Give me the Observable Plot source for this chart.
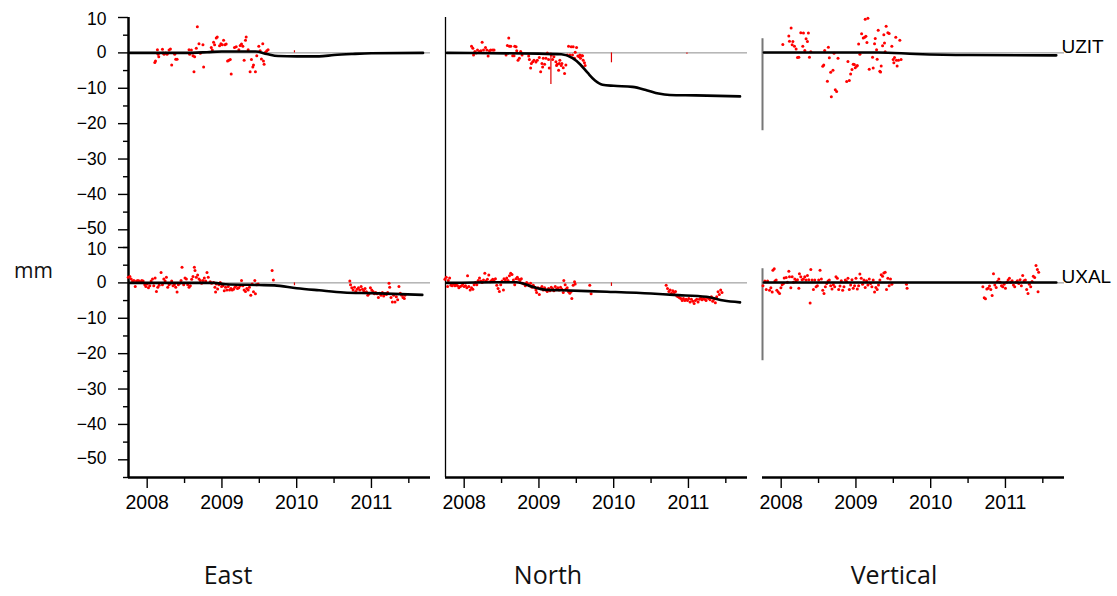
<!DOCTYPE html>
<html>
<head>
<meta charset="utf-8">
<script src="https://cdn.jsdelivr.net/npm/d3@7"></script>
<script src="https://cdn.jsdelivr.net/npm/@observablehq/plot@0.6"></script>
<style>
  html, body { margin: 0; padding: 0; background: #fff; }
  #wrap { position: relative; width: 1117px; height: 596px; overflow: hidden; }
  #chart { position: absolute; left: 0; top: 0; }
  .title { position: absolute; top: 557px; font-family: "Open Sans", sans-serif; font-size: 25px; color: #111; transform: translateX(-50%); white-space: nowrap; }
  #ylab { position: absolute; left: 14px; top: 256px; font-family: "Open Sans", sans-serif; font-size: 21px; color: #111; }
</style>
</head>
<body>
<div id="wrap">
  <div id="chart"></div>
  <div class="title" style="left:228px">East</div>
  <div class="title" style="left:548px">North</div>
  <div class="title" style="left:894px">Vertical</div>
  <div id="ylab">mm</div>
</div>
<script>
// ---------- data ----------
const components = ["East", "North", "Vertical"];
const stations = ["UZIT", "UXAL"];
const xDomain = [2007.75, 2011.79];
const yDomain = [-55, 10];
const yMajorTicks = [10, 0, -10, -20, -30, -40, -50];
const yInnerLabels = [0, -10, -20, -30, -40];
const yTopLabel = [10];
const yBottomLabel = [-50];
const yMinorTicks = [5, -5, -15, -25, -35, -45, -55];
const xMajorTicks = [2008, 2009, 2010, 2011];
const xMinorTicks = [2008.5, 2009.5, 2010.5, 2011.5];
const scaleBar = [4, -22]; // vertical reference bar in the Vertical panels (mm)

// observations [decimal year, mm]
const eastUZIT = [[2008.102,-2.7],[2008.111,-2.3],[2008.137,0.9],[2008.146,-0.4],[2008.155,-1.1],[2008.204,1.0],[2008.213,0],[2008.226,-0.4],[2008.248,0],[2008.266,-0.4],[2008.293,0.8],[2008.311,1.1],[2008.328,-3.4],[2008.368,-0.4],[2008.382,-1.8],[2008.40,-1.8],[2008.56,0.9],[2008.568,-0.4],[2008.591,0.8],[2008.613,-0.8],[2008.626,-5.3],[2008.635,-1.1],[2008.657,1.3],[2008.671,7.4],[2008.693,2.6],[2008.711,-0.1],[2008.746,2.3],[2008.755,-4.0],[2008.857,1.5],[2008.871,0.8],[2008.888,3.0],[2008.902,2.3],[2008.924,4.2],[2008.937,4.5],[2008.968,2.0],[2008.986,2.6],[2009.004,2.3],[2009.022,3.6],[2009.04,2.3],[2009.057,2.5],[2009.075,-2.3],[2009.093,-2.1],[2009.111,-1.9],[2009.124,-6.0],[2009.168,1.5],[2009.191,1.7],[2009.226,0.9],[2009.244,2.1],[2009.262,2.5],[2009.28,1.9],[2009.297,-2.1],[2009.315,3.6],[2009.324,4.5],[2009.351,0.9],[2009.377,-5.3],[2009.395,-1.9],[2009.413,-4.0],[2009.422,-3.4],[2009.448,-5.3],[2009.466,-0.8],[2009.493,1.9],[2009.511,0.6],[2009.528,-1.7],[2009.546,2.6],[2009.555,-2.3],[2009.564,-3.2],[2009.582,0.2],[2009.60,0.6],[2009.617,0.9]];

const northUZIT = [[2008.098,1.9],[2008.116,1.3],[2008.125,-0.6],[2008.143,0.4],[2008.160,0],[2008.178,0.8],[2008.205,0.4],[2008.223,0.6],[2008.240,3.0],[2008.258,0.8],[2008.285,1.5],[2008.303,0.8],[2008.320,-0.9],[2008.338,0.6],[2008.356,0.8],[2008.383,0.8],[2008.400,0.8],[2008.560,-0.6],[2008.578,2.1],[2008.596,4.2],[2008.605,1.9],[2008.623,1.9],[2008.649,-0.8],[2008.667,-0.8],[2008.676,1.9],[2008.694,1.7],[2008.703,0.6],[2008.720,-2.1],[2008.738,-1.5],[2008.756,0.4],[2008.774,-0.6],[2008.863,-0.9],[2008.872,-1.9],[2008.889,-4.3],[2008.898,-3.0],[2008.916,-2.5],[2008.934,-2.1],[2008.960,-2.6],[2008.978,-2.1],[2009.005,-1.3],[2009.023,-5.3],[2009.040,-3.0],[2009.049,-4.0],[2009.058,-1.5],[2009.076,-3.2],[2009.094,-1.5],[2009.112,0],[2009.129,-1.9],[2009.138,-4.3],[2009.165,-0.6],[2009.183,-1.9],[2009.200,-1.1],[2009.227,-2.5],[2009.236,-3.6],[2009.245,-3.2],[2009.263,-4.9],[2009.272,-3.0],[2009.280,-2.1],[2009.298,-3.6],[2009.307,-3.0],[2009.325,-4.2],[2009.343,-5.8],[2009.360,-3.4],[2009.378,-0.6],[2009.396,1.9],[2009.414,-0.6],[2009.432,1.7],[2009.449,-0.6],[2009.458,1.7],[2009.476,-1.5],[2009.485,0.2],[2009.503,1.5],[2009.520,-0.9],[2009.538,-1.1],[2009.547,-0.6],[2009.556,-1.5],[2009.574,-0.8],[2009.583,-0.8],[2009.592,-2.1],[2009.609,-2.8],[2009.618,-3.6]];

const vertUZIT = [[2008.022,2.4],[2008.102,4.8],[2008.111,3.3],[2008.133,7.0],[2008.147,2.3],[2008.156,3.2],[2008.178,1.9],[2008.200,1.1],[2008.218,-1.3],[2008.236,-1.2],[2008.262,5.7],[2008.289,1.9],[2008.298,5.6],[2008.316,0.7],[2008.333,4.0],[2008.351,3.2],[2008.364,5.6],[2008.378,-1.2],[2008.396,0.3],[2008.556,-3.8],[2008.569,-3.4],[2008.582,0.7],[2008.618,-8.0],[2008.631,1.6],[2008.644,-1.4],[2008.662,-5.5],[2008.671,-12.4],[2008.693,-4.9],[2008.707,-0.1],[2008.724,-10.4],[2008.742,-10.9],[2008.760,-1.5],[2008.876,-8.1],[2008.893,-2.4],[2008.911,-7.8],[2008.929,-6.0],[2008.947,-4.7],[2008.964,-3.2],[2008.978,-3.3],[2008.991,-4.2],[2009.009,-3.8],[2009.018,-3.6],[2009.036,2.5],[2009.053,-0.4],[2009.076,5.4],[2009.098,4.2],[2009.116,4.4],[2009.124,9.5],[2009.133,4.7],[2009.147,2.9],[2009.160,9.8],[2009.178,-4.6],[2009.222,-1.2],[2009.231,-4.3],[2009.249,2.6],[2009.258,4.1],[2009.276,0.9],[2009.284,-1.8],[2009.298,6.4],[2009.320,-5.2],[2009.329,-5.4],[2009.338,-3.7],[2009.356,2.0],[2009.373,5.1],[2009.382,2.8],[2009.391,0.3],[2009.404,7.5],[2009.427,5.7],[2009.444,5.5],[2009.480,1.9],[2009.498,-1.9],[2009.507,-2.8],[2009.516,-1.3],[2009.533,4.4],[2009.542,-2.1],[2009.551,-3.7],[2009.569,-2.1],[2009.587,3.6],[2009.604,-1.9]];

const eastUXAL = [[2007.746,1.6],[2007.768,1.8],[2007.786,1.1],[2007.804,0.5],[2007.822,0.7],[2007.840,-1.0],[2007.857,0.5],[2007.875,0.7],[2007.893,0.5],[2007.911,0.2],[2007.928,0.7],[2007.946,0.5],[2007.968,-0.5],[2007.982,-1.0],[2008.000,-0.3],[2008.017,-1.4],[2008.035,-0.8],[2008.053,0.5],[2008.071,1.1],[2008.088,-0.8],[2008.106,1.4],[2008.124,-2.4],[2008.142,-1.2],[2008.160,-0.7],[2008.186,2.9],[2008.204,-0.5],[2008.222,1.1],[2008.240,0.5],[2008.257,1.6],[2008.275,-1.2],[2008.293,-0.5],[2008.311,-0.1],[2008.328,0.5],[2008.346,-0.8],[2008.364,-0.5],[2008.382,-1.2],[2008.400,-2.6],[2008.417,-0.5],[2008.435,-0.1],[2008.453,0.7],[2008.466,4.4],[2008.488,-0.5],[2008.506,1.4],[2008.524,1.1],[2008.542,-0.5],[2008.560,-1.2],[2008.577,-0.8],[2008.595,1.0],[2008.613,1.8],[2008.631,4.4],[2008.640,3.5],[2008.657,1.6],[2008.675,2.2],[2008.693,1.1],[2008.711,0.7],[2008.728,-0.1],[2008.746,0.7],[2008.764,1.4],[2008.782,0.5],[2008.800,2.9],[2008.817,1.6],[2008.844,0.3],[2008.862,-0.1],[2008.888,0.1],[2008.906,-1.2],[2008.915,-2.6],[2008.924,-0.3],[2008.942,-1.7],[2008.960,-0.5],[2008.977,0.1],[2008.995,-1.0],[2009.013,-0.8],[2009.031,-2.2],[2009.048,-1.2],[2009.066,-2.0],[2009.084,-1.0],[2009.102,-2.0],[2009.120,-1.6],[2009.137,-2.0],[2009.155,-1.8],[2009.173,-1.2],[2009.191,-0.8],[2009.208,-1.6],[2009.226,-1.4],[2009.244,-0.8],[2009.262,0.7],[2009.280,-0.8],[2009.297,-2.0],[2009.315,-2.4],[2009.333,-1.6],[2009.351,-2.0],[2009.368,-1.2],[2009.386,-3.5],[2009.404,-0.3],[2009.422,-2.5],[2009.440,0.7],[2009.448,-3.1],[2009.466,-0.5],[2009.484,-0.3],[2009.671,3.5],[2009.688,0.8],
[2010.711,0.5],[2010.720,-0.5],[2010.737,-1.4],[2010.755,-2.0],[2010.773,-1.2],[2010.791,-2.4],[2010.808,-1.8],[2010.826,-1.4],[2010.844,-2.0],[2010.862,-1.0],[2010.880,-1.8],[2010.897,-2.2],[2010.915,-1.6],[2010.933,-2.5],[2010.951,-3.5],[2010.968,-3.1],[2010.986,-1.4],[2011.004,-2.0],[2011.022,-2.4],[2011.040,-3.1],[2011.057,-2.7],[2011.075,-3.1],[2011.093,-4.1],[2011.111,-2.9],[2011.128,-3.5],[2011.146,-2.7],[2011.164,-3.7],[2011.182,-3.1],[2011.200,-3.3],[2011.217,-2.7],[2011.235,-0.1],[2011.244,-1.2],[2011.262,-4.1],[2011.280,-5.4],[2011.297,-3.5],[2011.315,-5.4],[2011.333,-3.9],[2011.351,-4.8],[2011.368,-1.0],[2011.386,-2.9],[2011.404,-3.5],[2011.422,-4.1],[2011.440,-4.4],[2011.448,-3.5]];

const northUXAL = [[2007.742,1.0],[2007.760,1.6],[2007.778,-1.0],[2007.787,0.7],[2007.805,1.4],[2007.822,-0.7],[2007.840,-0.8],[2007.858,-0.3],[2007.876,-0.8],[2007.893,-0.5],[2007.911,-0.8],[2007.929,-1.4],[2007.947,-1.0],[2007.965,-0.8],[2007.982,-0.3],[2008.000,-1.0],[2008.018,-0.8],[2008.036,-1.4],[2008.045,2.0],[2008.062,-1.0],[2008.080,-2.0],[2008.098,-1.4],[2008.116,-1.8],[2008.133,-0.5],[2008.151,0.1],[2008.169,-0.5],[2008.187,0.7],[2008.205,1.4],[2008.222,0.5],[2008.240,0.1],[2008.258,0.8],[2008.276,2.7],[2008.293,0.5],[2008.311,1.0],[2008.329,2.2],[2008.347,0.3],[2008.365,0.7],[2008.382,1.0],[2008.400,0.5],[2008.418,1.2],[2008.436,-0.7],[2008.453,-1.6],[2008.471,-2.4],[2008.489,-0.5],[2008.507,0.5],[2008.525,-2.0],[2008.533,1.2],[2008.551,0.8],[2008.569,1.4],[2008.587,0.7],[2008.605,2.0],[2008.622,2.7],[2008.640,2.4],[2008.658,0.8],[2008.676,-0.5],[2008.693,1.2],[2008.711,1.6],[2008.729,1.0],[2008.747,0.7],[2008.765,1.2],[2008.782,-0.1],[2008.800,-0.3],[2008.818,-0.8],[2008.836,0.1],[2008.853,-0.3],[2008.871,-0.8],[2008.889,-0.1],[2008.907,-1.2],[2008.925,-0.7],[2008.942,-1.2],[2008.960,-2.0],[2008.969,-2.7],[2008.987,-1.4],[2009.005,-3.3],[2009.022,-1.6],[2009.040,-1.0],[2009.058,-2.0],[2009.076,-1.4],[2009.093,-2.0],[2009.111,-2.4],[2009.129,-1.6],[2009.147,-2.2],[2009.165,-1.2],[2009.182,-1.6],[2009.200,-2.2],[2009.218,-1.0],[2009.236,-1.8],[2009.253,-1.4],[2009.271,-2.0],[2009.289,-1.2],[2009.307,-1.8],[2009.325,-2.7],[2009.333,0.7],[2009.351,-0.5],[2009.360,-1.8],[2009.378,-1.4],[2009.396,-2.5],[2009.413,-2.9],[2009.431,-2.4],[2009.440,-4.4],[2009.458,-0.7],[2009.476,0.3],[2009.485,-0.3],[2009.680,-0.7],[2009.698,-3.1],
[2010.702,-0.7],[2010.720,-1.6],[2010.738,-2.4],[2010.756,-2.0],[2010.773,-2.9],[2010.791,-2.2],[2010.809,-2.7],[2010.827,-2.4],[2010.845,-3.7],[2010.862,-3.9],[2010.880,-4.2],[2010.898,-4.4],[2010.916,-5.0],[2010.933,-4.4],[2010.951,-5.0],[2010.969,-4.6],[2010.987,-5.0],[2011.005,-4.4],[2011.022,-5.4],[2011.040,-4.6],[2011.058,-5.2],[2011.076,-5.8],[2011.093,-5.0],[2011.111,-4.6],[2011.129,-5.4],[2011.147,-4.6],[2011.165,-4.2],[2011.182,-4.8],[2011.200,-4.4],[2011.218,-4.6],[2011.236,-5.0],[2011.253,-4.2],[2011.271,-4.4],[2011.289,-4.8],[2011.307,-3.9],[2011.325,-5.2],[2011.342,-4.6],[2011.360,-5.6],[2011.378,-3.9],[2011.396,-2.5],[2011.413,-3.3],[2011.431,-2.0],[2011.449,-2.7]];

const vertUXAL = [[2007.756,-0.8],[2007.782,0.5],[2007.800,-1.9],[2007.818,0.5],[2007.844,-2.1],[2007.862,-1.4],[2007.880,-2.6],[2007.889,3.6],[2007.907,4.0],[2007.916,0.5],[2007.933,0.8],[2007.942,-2.1],[2007.960,-2.6],[2007.978,-3.0],[2007.996,-1.4],[2008.013,-0.5],[2008.031,-0.2],[2008.040,1.4],[2008.067,1.5],[2008.084,0.2],[2008.102,3.3],[2008.111,1.7],[2008.129,-1.4],[2008.147,1.7],[2008.164,0.2],[2008.182,1.1],[2008.200,0.6],[2008.218,0.9],[2008.236,-1.5],[2008.244,2.6],[2008.262,1.7],[2008.280,0.9],[2008.298,1.1],[2008.316,1.7],[2008.333,0.8],[2008.351,2.1],[2008.369,0.9],[2008.387,-5.7],[2008.396,3.8],[2008.413,0.8],[2008.431,-1.9],[2008.449,0.8],[2008.467,-1.1],[2008.484,-0.8],[2008.502,0.8],[2008.520,3.6],[2008.538,1.1],[2008.556,-2.1],[2008.573,-3.0],[2008.591,-1.1],[2008.609,-0.2],[2008.627,0.5],[2008.644,0.8],[2008.662,-0.8],[2008.680,-1.7],[2008.698,-0.5],[2008.716,-1.1],[2008.733,1.7],[2008.751,1.3],[2008.769,-1.9],[2008.787,-0.9],[2008.804,0.6],[2008.822,-2.1],[2008.840,-1.1],[2008.858,0.8],[2008.876,0.4],[2008.893,1.3],[2008.911,-1.9],[2008.929,-0.6],[2008.947,0.9],[2008.964,-1.5],[2008.982,-0.8],[2009.000,1.3],[2009.018,-1.7],[2009.036,-0.8],[2009.053,2.5],[2009.071,1.3],[2009.089,-0.4],[2009.107,0.8],[2009.124,-1.3],[2009.142,0.6],[2009.160,-0.6],[2009.178,1.1],[2009.196,-0.2],[2009.213,-1.1],[2009.231,0.8],[2009.249,-2.6],[2009.267,-1.3],[2009.284,-1.9],[2009.302,-0.6],[2009.320,0.8],[2009.338,2.3],[2009.356,1.9],[2009.373,2.8],[2009.391,3.0],[2009.409,-1.9],[2009.427,1.3],[2009.444,-0.8],[2009.462,1.1],[2009.480,-0.4],[2009.676,-0.4],[2009.684,-1.5],
[2010.698,-1.1],[2010.716,-4.2],[2010.733,-4.5],[2010.751,-1.7],[2010.769,-1.5],[2010.787,-0.9],[2010.804,-1.9],[2010.822,-3.6],[2010.840,2.6],[2010.858,-0.6],[2010.876,-1.3],[2010.893,0.4],[2010.911,1.1],[2010.929,0.2],[2010.947,-0.8],[2010.964,-1.1],[2010.982,-0.4],[2011.000,-1.5],[2011.018,0.2],[2011.036,0.8],[2011.053,1.3],[2011.071,0.2],[2011.089,0.6],[2011.107,-0.6],[2011.124,-1.1],[2011.142,0.2],[2011.160,0.6],[2011.178,-0.2],[2011.196,0.9],[2011.213,-0.8],[2011.231,2.1],[2011.249,0.6],[2011.267,0.8],[2011.284,-1.9],[2011.302,-3.0],[2011.320,-0.4],[2011.338,-1.1],[2011.356,0.4],[2011.373,1.9],[2011.391,1.5],[2011.409,4.9],[2011.427,3.8],[2011.436,-2.5],[2011.444,3.0]];

// model curves [decimal year, mm]
const eastUZITModel = [[2007.77,0],[2008.5,0],[2008.8,0.2],[2009.0,0.4],[2009.45,0.4],[2009.6,-0.3],[2009.75,-0.9],[2010.0,-1.0],[2010.3,-1.0],[2010.5,-0.6],[2010.75,-0.3],[2011.0,-0.1],[2011.69,0]];
const northUZITModel = [[2007.77,0],[2009.0,-0.2],[2009.3,-0.4],[2009.45,-1.5],[2009.55,-3.2],[2009.65,-5.6],[2009.75,-7.8],[2009.85,-9.0],[2010.0,-9.3],[2010.25,-9.6],[2010.45,-10.6],[2010.6,-11.5],[2010.75,-11.9],[2011.1,-12.0],[2011.69,-12.3]];
const vertUZITModel = [[2007.77,0.1],[2009.3,0.1],[2009.8,-0.3],[2010.5,-0.6],[2011.68,-0.7]];
const eastUXALModel = [[2007.77,0],[2008.9,0],[2009.05,-0.4],[2009.5,-0.6],[2009.7,-0.7],[2010.0,-1.5],[2010.3,-2.1],[2010.63,-2.7],[2011.0,-2.9],[2011.68,-3.4]];
const northUXALModel = [[2007.77,0],[2008.4,0.2],[2008.7,0.2],[2008.93,-1.2],[2009.07,-1.9],[2009.3,-2.1],[2009.91,-2.5],[2010.5,-3.0],[2010.8,-3.4],[2011.24,-3.9],[2011.47,-5.0],[2011.69,-5.5]];
const vertUXALModel = [[2007.77,0.1],[2010.0,0.1],[2011.68,0.1]];

// single-epoch spikes [component, station, year, mm]
const spikes = [["North","UZIT",2009.16,-8.9],["North","UZIT",2009.97,-2.8],["East","UZIT",2009.97,0.6],["North","UZIT",2010.98,-0.4],["East","UXAL",2009.97,-0.8],["North","UXAL",2009.97,-1.0]];

// ---------- build ----------
const rows = (pairs, comp, st) => pairs.map(([year, val]) => ({comp, st, year, val}));
const points = [
  ...rows(eastUZIT, "East", "UZIT"), ...rows(northUZIT, "North", "UZIT"), ...rows(vertUZIT, "Vertical", "UZIT"),
  ...rows(eastUXAL, "East", "UXAL"), ...rows(northUXAL, "North", "UXAL"), ...rows(vertUXAL, "Vertical", "UXAL")
];
const models = [
  ...rows(eastUZITModel, "East", "UZIT"), ...rows(northUZITModel, "North", "UZIT"), ...rows(vertUZITModel, "Vertical", "UZIT"),
  ...rows(eastUXALModel, "East", "UXAL"), ...rows(northUXALModel, "North", "UXAL"), ...rows(vertUXALModel, "Vertical", "UXAL")
];
const spikeRows = spikes.map(([comp, st, year, val]) => ({comp, st, year, val}));
const cells = components.flatMap(comp => stations.map(st => ({comp, st})));
const bottomCells = components.map(comp => ({comp, st: stations[stations.length - 1]}));
const fmt = d3.format("d");
// text-only y labels: zero-length ticks, text offset = 10 (tick) + 12 (padding)
const yText = {tickSize: 0, tickPadding: 22, tickFormat: fmt, fontSize: 17.5, label: null};

const chart = Plot.plot({
  width: 1117,
  height: 530,
  marginLeft: 127,
  marginRight: 52,
  marginTop: 17,
  marginBottom: 53,
  style: {fontFamily: "'Liberation Sans', Arial, sans-serif", fontSize: "18px", background: "white", color: "#000", overflow: "visible"},
  x: {domain: xDomain},
  y: {domain: yDomain},
  fx: {domain: components, paddingInner: 0.046, paddingOuter: 0, axis: null},
  fy: {domain: stations, paddingInner: 0, paddingOuter: 0, axis: null},
  marks: [
    // zero lines
    Plot.ruleY([0], {stroke: "#8c8c8c", strokeWidth: 1}),
    // y axis (East column only)
    Plot.axisY({ticks: yMinorTicks, tickSize: 5, text: null, strokeWidth: 1.4, label: null}),
    Plot.axisY({ticks: yMajorTicks, tickSize: 10, text: null, strokeWidth: 1.4, label: null}),
    Plot.axisY({ticks: yInnerLabels, ...yText}),
    Plot.axisY({ticks: yTopLabel, ...yText, dy: 1.5}),
    Plot.axisY({ticks: yBottomLabel, ...yText, dy: -1.5}),
    // x axis (bottom row)
    Plot.axisX({ticks: xMinorTicks, tickSize: 6, text: null, strokeWidth: 1.4, label: null}),
    Plot.axisX({ticks: xMajorTicks, tickSize: 11, tickPadding: 7, tickFormat: fmt, strokeWidth: 1.4, fontSize: 19.5, label: null}),
    // axis lines
    Plot.ruleX(cells.filter(d => d.comp === "East"), {fx: "comp", fy: "st", x: () => xDomain[0], stroke: "#000", strokeWidth: 2.5}),
    Plot.ruleX(cells.filter(d => d.comp === "North"), {fx: "comp", fy: "st", x: () => xDomain[0], stroke: "#000", strokeWidth: 1.3}),
    Plot.ruleX(cells.filter(d => d.comp === "Vertical"), {fx: "comp", fy: "st", x: () => xDomain[0], y1: () => scaleBar[0], y2: () => scaleBar[1], stroke: "#777", strokeWidth: 2}),
    Plot.ruleY(bottomCells, {fx: "comp", fy: "st", y: () => yDomain[0], stroke: "#000", strokeWidth: 2.5}),
    // spikes
    Plot.ruleX(spikeRows, {fx: "comp", fy: "st", x: "year", y1: () => 0, y2: "val", stroke: "#e00000", strokeWidth: 1.2}),
    // observations
    Plot.dot(points, {fx: "comp", fy: "st", x: "year", y: "val", r: 1.5, fill: "#ff0000", stroke: "none"}),
    // model
    Plot.line(models, {fx: "comp", fy: "st", x: "year", y: "val", z: d => d.comp + d.st, curve: "monotone-x", stroke: "#000", strokeWidth: 2.6}),
    // station labels
    Plot.text(stations, {fx: () => "Vertical", fy: d => d, x: () => xDomain[1], y: () => 0, text: d => d, textAnchor: "start", dx: -3, dy: -6, fontSize: 19})
  ]
});
document.getElementById("chart").appendChild(chart);
</script>
</body>
</html>
